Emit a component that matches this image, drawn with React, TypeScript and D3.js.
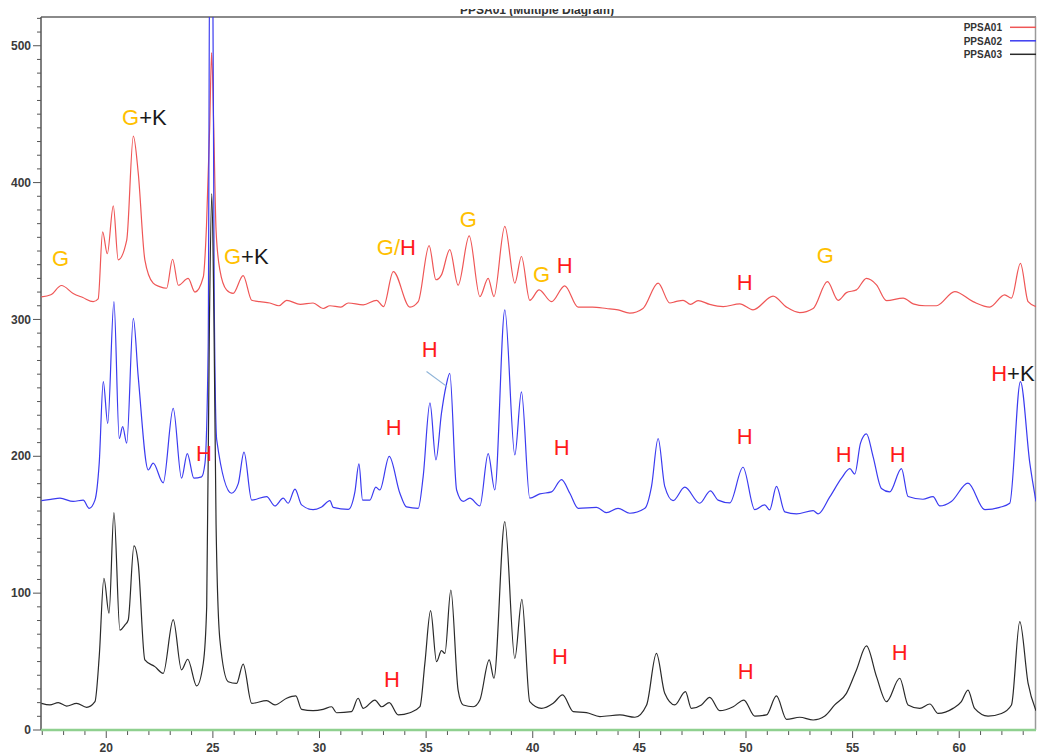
import React from 'react';
import * as d3 from 'd3';

type Pt = [number, number];

// 2-theta (deg) vs counts
const ppsa01: Pt[] = [
  [16.96, 316.5], [17.4, 318], [17.9, 324.8], [18.45, 319], [18.9, 316], [19.39, 313], [19.62, 315],
  [19.83, 364], [20.05, 348], [20.33, 383], [20.56, 343.6], [20.96, 358], [21.27, 434], [21.5, 407],
  [21.81, 343.6], [22.2, 326.5], [22.5, 324], [22.83, 322.8], [23.11, 344], [23.38, 325], [23.84, 330],
  [24.16, 320], [24.55, 331], [24.7, 368], [24.85, 440], [24.94, 495], [25.04, 440], [25.15, 365],
  [25.33, 336], [25.64, 321.6], [25.95, 319], [26.42, 332], [26.82, 314], [27.2, 313], [27.67, 312],
  [28.1, 310], [28.46, 314], [29.1, 311], [29.7, 312], [30.17, 308], [30.49, 310], [31.0, 309],
  [31.35, 312], [32.05, 310.7], [32.68, 314], [33.0, 309.4], [33.46, 335], [34.24, 309], [34.63, 313],
  [35.14, 354], [35.46, 329], [35.72, 332.6], [36.11, 351], [36.5, 325], [37.02, 361], [37.52, 316.7],
  [37.91, 330], [38.18, 316.7], [38.69, 368], [39.16, 326.5], [39.47, 346], [39.86, 314], [40.3, 321.6],
  [40.88, 313], [41.5, 324.6], [42.13, 309], [42.8, 309], [43.46, 308], [44.0, 307], [44.55, 304.6],
  [45.17, 308], [45.88, 326.5], [46.43, 312], [46.7, 313], [47.05, 314], [47.4, 311], [47.75, 313.8],
  [48.3, 311], [48.93, 309.4], [49.71, 311.4], [50.33, 307], [51.27, 317], [51.9, 309], [52.52, 305],
  [53.15, 308], [53.82, 327.6], [54.32, 314], [54.71, 319.6], [55.18, 321.6], [55.65, 330], [56.12, 325.3],
  [56.59, 313.8], [57.37, 315.6], [57.84, 311.4], [58.4, 310], [58.93, 310], [59.79, 320.4], [60.65, 313],
  [61.43, 309], [62.13, 318], [62.45, 315.6], [62.87, 341], [63.23, 313], [63.6, 309.4],
];

const ppsa02: Pt[] = [
  [16.96, 167.6], [17.4, 168.5], [17.83, 169.4], [18.45, 167], [18.92, 168], [19.2, 162], [19.47, 168],
  [19.67, 195], [19.86, 254.6], [20.07, 224], [20.36, 313], [20.61, 213], [20.77, 221.7], [20.96, 209.6],
  [21.27, 300.8], [21.5, 258], [21.97, 190], [22.2, 195], [22.67, 180.6], [23.14, 235], [23.53, 184],
  [23.8, 202], [24.11, 184], [24.47, 185], [24.63, 195], [24.78, 280], [24.86, 600], [24.98, 600],
  [25.06, 320], [25.18, 212], [25.88, 173], [26.19, 180], [26.46, 203], [26.82, 168], [27.52, 170.6],
  [27.91, 163.7], [28.3, 169.4], [28.53, 165.7], [28.85, 176], [29.16, 164.5], [29.7, 161], [30.1, 163],
  [30.49, 167.6], [30.64, 162.7], [31.35, 161.2], [31.66, 174], [31.85, 194.4], [32.02, 168], [32.36, 168],
  [32.64, 177.4], [32.83, 175.4], [33.27, 200], [33.77, 173], [34.08, 163], [34.63, 162], [34.86, 185],
  [35.18, 239], [35.46, 197.4], [35.72, 231.5], [35.93, 251], [36.11, 260.6], [36.43, 175.4], [36.74, 167],
  [37.05, 169.4], [37.52, 163.7], [37.91, 202], [38.22, 175.4], [38.69, 307], [39.16, 201], [39.47, 247],
  [39.86, 169.4], [40.33, 172.5], [40.88, 174], [41.35, 183], [41.74, 173], [42.13, 162], [42.99, 162.7],
  [43.46, 158.8], [44.0, 162], [44.55, 158.4], [45.26, 162], [45.57, 178], [45.88, 213], [46.19, 178],
  [46.58, 167.6], [47.13, 177.4], [47.83, 165.7], [48.33, 174.8], [48.69, 168], [49.24, 166], [49.86, 192],
  [50.41, 161], [50.88, 164.5], [51.11, 160.8], [51.43, 178], [51.82, 159.4], [52.37, 157.9], [53.15, 160.3],
  [53.38, 157.9], [53.93, 170.3], [54.48, 184], [54.87, 191], [55.1, 187], [55.37, 209.6], [55.65, 216.4],
  [55.96, 199.8], [56.35, 176.5], [56.74, 174], [57.29, 191], [57.6, 170.6], [58.3, 168.6], [58.77, 170.6],
  [59.09, 163.7], [59.63, 167], [60.41, 180.4], [61.2, 161], [61.9, 162.7], [62.37, 165.7], [62.87, 254.6],
  [63.31, 195], [63.6, 167],
];

const ppsa03: Pt[] = [
  [16.96, 19.5], [17.36, 18.3], [17.75, 20], [18.14, 17.5], [18.61, 19.5], [19.08, 16.6], [19.47, 20.7],
  [19.67, 53.6], [19.89, 110.9], [20.13, 85.3], [20.36, 158.9], [20.64, 73], [20.88, 76.8], [21.03, 80.4],
  [21.3, 134.5], [21.5, 121.8], [21.81, 51.2], [22.28, 46.3], [22.67, 41.4], [23.14, 80.7], [23.53, 43.9],
  [23.82, 51.7], [24.24, 32.2], [24.55, 48.8], [24.71, 90], [24.84, 300], [24.95, 392], [25.05, 300],
  [25.15, 150], [25.33, 65.8], [25.72, 35.3], [26.11, 34], [26.42, 48.2], [26.82, 19.5], [27.52, 21.4],
  [27.91, 18.3], [28.46, 23.2], [28.89, 24.9], [29.16, 15.1], [29.7, 14.1], [30.17, 15.1], [30.57, 17],
  [30.8, 12.6], [31.5, 13.4], [31.81, 23.2], [32.05, 15.8], [32.6, 21.9], [32.91, 17], [33.27, 20],
  [33.69, 11], [34.24, 12.6], [34.71, 17], [34.94, 48.5], [35.21, 87.2], [35.49, 49.9], [35.72, 58],
  [35.88, 56], [36.16, 102.3], [36.5, 29.2], [36.74, 18.3], [37.21, 17], [37.52, 21.9], [37.96, 51.2],
  [38.18, 37.8], [38.69, 152.3], [39.16, 52.4], [39.49, 95.5], [39.86, 20.7], [40.41, 15.8], [40.96, 19.5],
  [41.4, 25.6], [41.9, 13.4], [42.52, 12.7], [43.15, 9.8], [44.09, 11], [44.79, 9.3], [45.34, 18.3],
  [45.8, 56], [46.19, 26.8], [46.66, 18.3], [47.16, 28], [47.44, 15.8], [47.91, 18.3], [48.3, 23.9],
  [48.77, 14.1], [49.4, 17], [49.9, 21.9], [50.41, 10.2], [50.96, 11], [51.43, 24.9], [51.9, 7.8],
  [52.52, 9.3], [53.15, 7.3], [53.7, 10.2], [54.16, 18.3], [54.71, 26.8], [55.18, 43.9], [55.65, 61.4],
  [56.12, 39], [56.59, 20.7], [57.21, 37.8], [57.6, 18.3], [58.15, 15.8], [58.62, 19], [59.01, 12.1],
  [59.71, 15.8], [60.1, 20.7], [60.41, 29.2], [60.72, 15.8], [61.35, 10.2], [61.98, 12.1], [62.45, 18.3],
  [62.84, 79.2], [63.23, 34], [63.6, 14.1],
];

const seriesNames = ['PPSA01', 'PPSA02', 'PPSA03'];
const seriesColors = ['#ef5656', '#3b3bf0', '#2a2a2a'];

const xTicks = [20, 25, 30, 35, 40, 45, 50, 55, 60];
const yTicks = [0, 100, 200, 300, 400, 500];

// phase labels: [2θ, counts, text parts]
const labels: [number, number, string[]][] = [
  [17.45, 339.2, ['G']],
  [20.74, 442.3, ['G', '+K']],
  [25.52, 340.6, ['G', '+K']],
  [32.69, 347.2, ['G/', 'H']],
  [36.58, 367.7, ['G']],
  [40.01, 327.5, ['G']],
  [41.13, 334.1, ['H']],
  [49.57, 321.6, ['H']],
  [53.32, 341.4, ['G']],
  [34.8, 272.7, ['H']],
  [33.11, 215.6, ['H']],
  [24.21, 196.6, ['H']],
  [40.99, 201, ['H']],
  [49.57, 209.1, ['H']],
  [54.21, 195.9, ['H']],
  [56.74, 195.9, ['H']],
  [61.5, 255.1, ['H', '+K']],
  [33.02, 31.4, ['H']],
  [40.9, 48.2, ['H']],
  [49.61, 37.3, ['H']],
  [56.83, 51.2, ['H']],
];
const pointer: Pt[] = [[35.02, 261.9], [35.98, 250.9]];

const W = 1037;
const H = 756;
const left = 41;
const right = 1036;
const top = 17;
const bottom = 730;

const partColor = (p: string) => (p.startsWith('G') ? '#ffc000' : p.startsWith('H') ? '#ff1a1a' : '#1a1a1a');

export default function App() {
  const x = d3.scaleLinear().domain([16.94, 63.6]).range([left, right]);
  const y = d3.scaleLinear().domain([0, 521]).range([bottom, top]);
  const line = d3.line<Pt>().x((d) => x(d[0])).y((d) => y(d[1])).curve(d3.curveMonotoneX);
  const straight = d3.line<Pt>().x((d) => x(d[0])).y((d) => y(d[1]));
  const all = [ppsa01, ppsa02, ppsa03];
  const font = '"Liberation Sans", Arial, sans-serif';

  return (
    <svg width={W} height={H} style={{ position: 'absolute', left: 0, top: 0, background: '#fff' }}>
      <defs>
        <clipPath id="plot">
          <rect x={left} y={top} width={right - left} height={bottom - top} />
        </clipPath>
        <clipPath id="ttl">
          <rect x={0} y={9} width={W} height={8} />
        </clipPath>
      </defs>

      <text x={537} y={14} textAnchor="middle" fontFamily={font} fontWeight="bold" fontSize={12}
        fill="#333" clipPath="url(#ttl)">PPSA01 (Multiple Diagram)</text>

      {/* frame */}
      <line x1={left} x2={right} y1={top} y2={top} stroke="#8a8a8a" strokeWidth={2} />
      <line x1={right - 0.5} x2={right - 0.5} y1={top} y2={bottom} stroke="#9a9a9a" strokeWidth={1.5} />

      {/* y axis */}
      <line x1={left} x2={left} y1={top} y2={bottom} stroke="#555" strokeWidth={1.5} />
      {d3.range(0, 521, 10).map((v) => (
        <line key={'ym' + v} x1={left - (v % 100 === 0 ? 8 : 4)} x2={left} y1={y(v)} y2={y(v)} stroke="#555" strokeWidth={1} />
      ))}
      {yTicks.map((v) => (
        <text key={'yl' + v} x={31} y={y(v)} dy="0.35em" textAnchor="end" fontFamily={font} fontWeight="bold"
          fontSize={12} fill="#3a3a3a">{v}</text>
      ))}

      {/* x axis */}
      {d3.range(17, 64, 1).map((v) => (
        <line key={'xm' + v} x1={x(v)} x2={x(v)} y1={bottom} y2={bottom + (v % 5 === 0 ? 8 : 5)} stroke="#555" strokeWidth={1} />
      ))}
      {xTicks.map((v) => (
        <text key={'xl' + v} x={x(v)} y={752} textAnchor="middle" fontFamily={font} fontWeight="bold"
          fontSize={12} fill="#3a3a3a">{v}</text>
      ))}

      <g clipPath="url(#plot)" fill="none" strokeLinejoin="round">
        {all.map((s, i) => (
          <path key={seriesNames[i]} d={line(s) ?? ''} stroke={seriesColors[i]} strokeWidth={1.2} />
        ))}
      </g>
      <line x1={left} x2={right} y1={bottom} y2={bottom} stroke="#8fd08f" strokeWidth={2.5} />

      {/* legend */}
      {seriesNames.map((n, i) => (
        <g key={'lg' + n}>
          <text x={1002} y={31 + i * 13.5} textAnchor="end" fontFamily={font} fontWeight="bold" fontSize={10}
            fill="#333">{n}</text>
          <line x1={1010} x2={right} y1={27.3 + i * 13.5} y2={27.3 + i * 13.5} stroke={seriesColors[i]} strokeWidth={1.5} />
        </g>
      ))}

      {/* annotations */}
      <path d={straight(pointer) ?? ''} stroke="#8fb4d8" strokeWidth={1.2} fill="none" />
      {labels.map(([lx, ly, parts], i) => (
        <text key={'an' + i} x={x(lx)} y={y(ly)} fontFamily={font} fontSize={22}>
          {parts.map((p, j) => (
            <tspan key={j} fill={partColor(p)}>{p}</tspan>
          ))}
        </text>
      ))}
    </svg>
  );
}
